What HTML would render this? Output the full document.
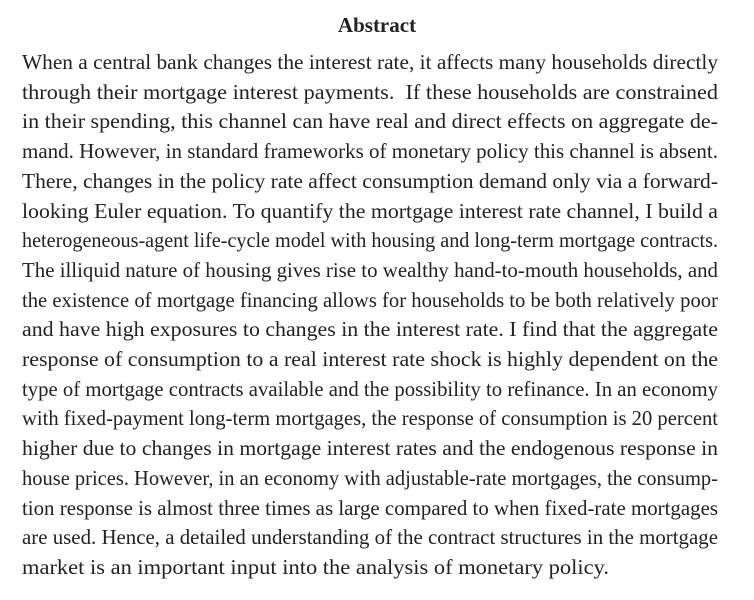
<!DOCTYPE html>
<html><head><meta charset="utf-8"><style>
body{margin:0;background:#fff;width:754px;height:600px;overflow:hidden;font-family:"Liberation Serif",serif;color:#222;}
.t{position:absolute;top:13px;left:0;width:754px;text-align:center;font-weight:bold;font-size:21px;}
.l{position:absolute;left:22px;font-size:21px;white-space:pre;height:30px;line-height:30px;transform-origin:0 0;}
</style></head><body>
<div class="t">Abstract</div>
<div id="body"></div>
<script>
const lines=["When a central bank changes the interest rate, it affects many households directly",
"through their mortgage interest payments.  If these households are constrained",
"in their spending, this channel can have real and direct effects on aggregate de-",
"mand. However, in standard frameworks of monetary policy this channel is absent.",
"There, changes in the policy rate affect consumption demand only via a forward-",
"looking Euler equation. To quantify the mortgage interest rate channel, I build a",
"heterogeneous-agent life-cycle model with housing and long-term mortgage contracts.",
"The illiquid nature of housing gives rise to wealthy hand-to-mouth households, and",
"the existence of mortgage financing allows for households to be both relatively poor",
"and have high exposures to changes in the interest rate. I find that the aggregate",
"response of consumption to a real interest rate shock is highly dependent on the",
"type of mortgage contracts available and the possibility to refinance. In an economy",
"with fixed-payment long-term mortgages, the response of consumption is 20 percent",
"higher due to changes in mortgage interest rates and the endogenous response in",
"house prices. However, in an economy with adjustable-rate mortgages, the consump-",
"tion response is almost three times as large compared to when fixed-rate mortgages",
"are used. Hence, a detailed understanding of the contract structures in the mortgage",
"market is an important input into the analysis of monetary policy."];
const b=document.getElementById('body');
lines.forEach((s,i)=>{const d=document.createElement('div');


d.className='l';d.style.top=(47+i*29.7)+'px';d.textContent=s;b.appendChild(d);
const w=d.getBoundingClientRect().width;
const target=(i==lines.length-1)?587:696;
d.style.transform='scaleX('+(target/w)+')';});
</script>
</body></html>
